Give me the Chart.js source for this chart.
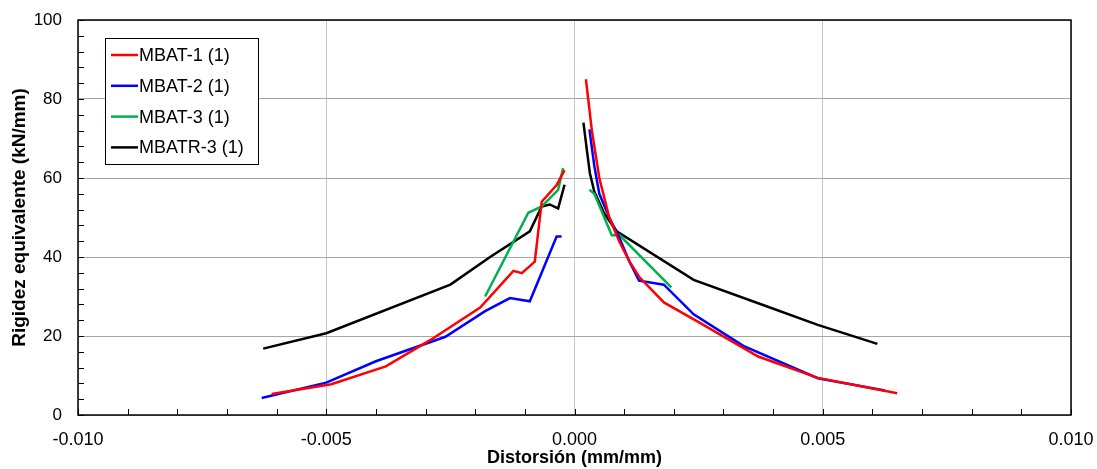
<!DOCTYPE html>
<html>
<head>
<meta charset="utf-8">
<script src="https://cdn.jsdelivr.net/npm/chart.js@4"></script>
<style>
  html, body { margin: 0; padding: 0; background: #fff; }
  #wrap { width: 1097px; height: 469px; }
</style>
</head>
<body>
<div id="wrap"><canvas id="chart" width="1097" height="469"></canvas></div>
<script>
// distortion (mm/mm) and stiffness (kN/mm); null splits the negative and positive branches
const mbat1X = [-0.0061, -0.0049, -0.0038, -0.0029, -0.0019, -0.00123, -0.00106, -0.0008, -0.00066, -0.00036, -0.0002, null,
  0.00023, 0.00035, 0.0005, 0.0007, 0.0009, 0.0011, 0.0013, 0.0018, 0.0025, 0.0037, 0.0049, 0.0065];
const mbat1Y = [5.3, 7.8, 12.3, 19, 27.2, 36.5, 35.9, 38.8, 54, 58.2, 62, null,
  85, 72, 60, 50, 44, 39, 35, 28.5, 23.5, 14.8, 9.4, 5.5];

const mbat2X = [-0.0063, -0.005, -0.004, -0.0026, -0.0018, -0.0013, -0.0009, -0.00036, -0.00026, null,
  0.0003, 0.0004, 0.0005, 0.0007, 0.0009, 0.0011, 0.0013, 0.0018, 0.0024, 0.0034, 0.0049, 0.00625];
const mbat2Y = [4.3, 8.2, 13.6, 19.8, 26.3, 29.6, 28.8, 45.2, 45.2, null,
  72.3, 63, 56, 50, 45, 39, 34, 33, 25.5, 17.5, 9.3, 6.2];

const mbat3X = [-0.0018, -0.00093, -0.00066, -0.00033, -0.00023, null,
  0.0003, 0.0004, 0.00075, 0.0009, 0.00195];
const mbat3Y = [30, 51.2, 52.8, 57, 62.5, null,
  57, 56, 45.5, 45.6, 32.3];

const mbatr3X = [-0.00627, -0.005, -0.0025, -0.0017, -0.0009, -0.00066, -0.0005, -0.00033, -0.0002, null,
  0.00018, 0.00025, 0.00031, 0.0004, 0.0006, 0.00085, 0.0024, 0.0037, 0.0049, 0.0061];
const mbatr3Y = [16.8, 20.7, 33, 40, 46.5, 52.8, 53.3, 52.3, 58.3, null,
  74, 67, 61.2, 56.5, 51, 46.5, 34.2, 28.3, 22.8, 18];

const seriesNames = ['MBAT-1 (1)', 'MBAT-2 (1)', 'MBAT-3 (1)', 'MBATR-3 (1)'];
const seriesColors = ['#ff0000', '#0000ff', '#00b050', '#000000'];

const toPoints = (xs, ys) => xs.map((x, i) => ({ x: x, y: ys[i] }));
const allX = [mbat1X, mbat2X, mbat3X, mbatr3X];
const allY = [mbat1Y, mbat2Y, mbat3Y, mbatr3Y];

const FONT = "'Liberation Sans', Arial, sans-serif";

// inward minor ticks, plot frame and legend inside the plot
const decor = {
  id: 'decor',
  afterDatasetsDraw(chart) {
    const c = chart.ctx;
    const a = chart.chartArea;
    const xs = chart.scales.x, ys = chart.scales.y;
    c.save();
    c.strokeStyle = '#000';
    c.lineWidth = 1;
    c.beginPath();
    for (let v = -10; v <= 10; v++) {
      const px = Math.round(xs.getPixelForValue(v / 1000)) + 0.5;
      c.moveTo(px, a.bottom);
      c.lineTo(px, a.bottom - 6);
    }
    for (let v = 0; v <= 100; v += 4) {
      const py = Math.round(ys.getPixelForValue(v)) + 0.5;
      c.moveTo(a.left, py);
      c.lineTo(a.left + 6, py);
    }
    c.stroke();
    c.lineWidth = 1.5;
    c.strokeRect(a.left, a.top, a.right - a.left, a.bottom - a.top);

    // legend
    const lx = a.left + 27, ly = a.top + 18, lw = 153, lh = 126;
    c.fillStyle = '#fff';
    c.fillRect(lx, ly, lw, lh);
    c.lineWidth = 1;
    c.strokeStyle = '#000';
    c.strokeRect(lx + 0.5, ly + 0.5, lw, lh);
    c.font = '18px ' + FONT;
    c.textBaseline = 'middle';
    chart.data.datasets.forEach((ds, i) => {
      const yy = ly + 17 + i * 30.8;
      c.strokeStyle = ds.borderColor;
      c.lineWidth = 2.5;
      c.beginPath();
      c.moveTo(lx + 6, yy);
      c.lineTo(lx + 33, yy);
      c.stroke();
      c.fillStyle = '#000';
      c.fillText(ds.label, lx + 34, yy + 1);
    });
    c.restore();
  }
};

new Chart(document.getElementById('chart'), {
  type: 'scatter',
  data: {
    datasets: seriesNames.map((name, i) => ({
      label: name,
      data: toPoints(allX[i], allY[i]),
      borderColor: seriesColors[i],
      backgroundColor: seriesColors[i],
      showLine: true,
      spanGaps: false,
      borderWidth: 2.5,
      pointRadius: 0,
      tension: 0
    }))
  },
  options: {
    responsive: false,
    animation: false,
    layout: { padding: { left: 0, right: 26, top: 20, bottom: 0 } },
    plugins: { legend: { display: false }, tooltip: { enabled: false } },
    scales: {
      x: {
        type: 'linear',
        min: -0.01, max: 0.01,
        afterFit: s => { s.height = 54; s.paddingLeft = 0; s.paddingRight = 0; },
        grid: { color: '#c8c8c8', drawTicks: false, lineWidth: 1 },
        border: { display: false },
        ticks: {
          stepSize: 0.005, padding: 14, color: '#000',
          font: { family: FONT, size: 18 },
          callback: v => v.toFixed(3)
        },
        title: {
          display: true, text: 'Distorsión (mm/mm)', color: '#000',
          font: { family: FONT, size: 18, weight: 'bold' }, padding: { top: 0, bottom: 0 }
        }
      },
      y: {
        min: 0, max: 100,
        afterFit: s => { s.width = 78; s.paddingTop = 0; s.paddingBottom = 0; },
        grid: { color: '#a6a6a6', drawTicks: false, lineWidth: 1 },
        border: { display: false },
        ticks: {
          stepSize: 20, padding: 16, color: '#000',
          font: { family: FONT, size: 17 }
        },
        title: {
          display: true, text: 'Rigidez equivalente (kN/mm)', color: '#000',
          font: { family: FONT, size: 19, weight: 'bold' }, padding: { top: 8, bottom: 4 }
        }
      }
    }
  },
  plugins: [decor]
});
</script>
</body>
</html>
